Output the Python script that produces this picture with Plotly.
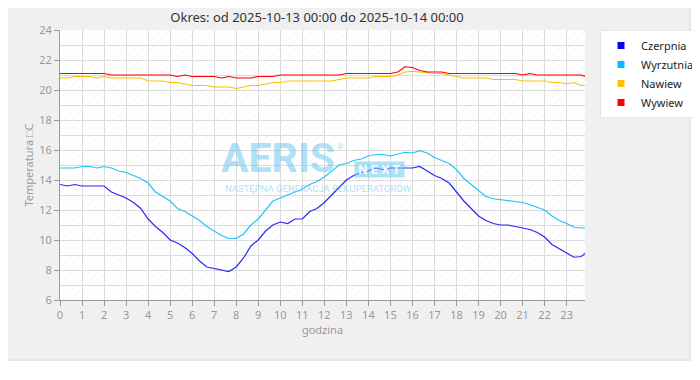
import plotly.graph_objects as go

# ---- data ----
times = [round(i / 3, 3) for i in range(72)] + [23.833]

czerpnia = [13.7, 13.6, 13.7, 13.6, 13.6, 13.6, 13.6, 13.2, 13.0, 12.8, 12.5, 12.1,
            11.4, 10.9, 10.5, 10.0, 9.8, 9.5, 9.1, 8.6, 8.2, 8.1, 8.0, 7.9,
            8.2, 8.8, 9.6, 10.0, 10.6, 11.0, 11.2, 11.1, 11.4, 11.4, 11.9, 12.1,
            12.5, 13.0, 13.5, 14.0, 14.3, 14.5, 14.6, 14.8, 14.7, 14.8, 14.8, 14.8,
            14.8, 14.9, 14.6, 14.3, 14.1, 13.8, 13.2, 12.6, 12.1, 11.6, 11.3, 11.1,
            11.0, 11.0, 10.9, 10.8, 10.7, 10.5, 10.2, 9.7, 9.4, 9.1, 8.85, 8.9, 9.1]

wyrzutnia = [14.8, 14.8, 14.8, 14.9, 14.9, 14.8, 14.9, 14.8, 14.6, 14.5, 14.3, 14.1,
             13.8, 13.2, 12.9, 12.6, 12.1, 11.9, 11.6, 11.3, 10.9, 10.6, 10.3, 10.1,
             10.1, 10.4, 11.0, 11.4, 12.0, 12.6, 12.8, 13.0, 13.2, 13.4, 13.7, 13.9,
             14.2, 14.6, 15.0, 15.1, 15.3, 15.4, 15.6, 15.7, 15.7, 15.6, 15.7, 15.85,
             15.8, 15.95, 15.8, 15.5, 15.3, 15.1, 14.7, 14.1, 13.7, 13.3, 12.9, 12.75,
             12.7, 12.6, 12.6, 12.5, 12.35, 12.2, 12.0, 11.6, 11.3, 11.1, 10.85, 10.8, 10.8]

nawiew = [20.8, 20.8, 20.9, 20.9, 20.9, 20.8, 20.9, 20.8, 20.8, 20.8, 20.8, 20.8,
          20.6, 20.6, 20.6, 20.5, 20.5, 20.4, 20.3, 20.3, 20.3, 20.2, 20.2, 20.2,
          20.1, 20.2, 20.3, 20.3, 20.4, 20.5, 20.5, 20.6, 20.6, 20.6, 20.6, 20.6,
          20.6, 20.6, 20.7, 20.8, 20.8, 20.8, 20.8, 20.9, 20.9, 20.9, 21.0, 21.2,
          21.25, 21.2, 21.1, 21.1, 21.1, 21.0, 20.9, 20.8, 20.8, 20.8, 20.8, 20.7,
          20.7, 20.7, 20.7, 20.6, 20.6, 20.6, 20.6, 20.5, 20.5, 20.4, 20.5, 20.3, 20.3]

wywiew = [21.1, 21.1, 21.1, 21.1, 21.1, 21.1, 21.1, 21.0, 21.0, 21.0, 21.0, 21.0,
          21.0, 21.0, 21.0, 21.0, 20.9, 21.0, 20.9, 20.9, 20.9, 20.9, 20.8, 20.9,
          20.8, 20.8, 20.8, 20.9, 20.9, 20.9, 21.0, 21.0, 21.0, 21.0, 21.0, 21.0,
          21.0, 21.0, 21.0, 21.1, 21.1, 21.1, 21.1, 21.1, 21.1, 21.1, 21.2, 21.55,
          21.5, 21.3, 21.2, 21.2, 21.2, 21.1, 21.1, 21.1, 21.1, 21.1, 21.1, 21.1,
          21.1, 21.1, 21.1, 21.0, 21.1, 21.0, 21.0, 21.0, 21.0, 21.0, 21.0, 21.0, 20.9]

series_names = ["Czerpnia", "Wyrzutnia", "Nawiew", "Wywiew"]
series_colors = ["#2a2af0", "#22c4f4", "#ffbf00", "#ff0000"]
legend_colors = ["#0000ff", "#00bfff", "#ffbf00", "#ff0000"]

x_ticks = list(range(0, 24))
y_ticks = list(range(6, 25, 2))
y_min, y_max = 6, 24
x_min, x_max = times[0], times[-1]

title_text = "Okres: od 2025-10-13 00:00 do 2025-10-14 00:00"

fig = go.Figure()

# hatched plot background
fig.add_trace(go.Bar(
    x=[(x_min + x_max) / 2], y=[y_max - y_min], base=[y_min], width=[x_max - x_min],
    marker=dict(color="rgba(0,0,0,0)", line=dict(width=0),
                pattern=dict(shape="/", fgcolor="#e9e9e9", bgcolor="rgba(0,0,0,0)",
                             size=6, solidity=0.15)),
    hoverinfo="skip", showlegend=False))

for name, vals, col in zip(series_names, [czerpnia, wyrzutnia, nawiew, wywiew], series_colors):
    fig.add_trace(go.Scatter(x=times, y=vals, mode="lines", name=name,
                             line=dict(color=col, width=1.2), showlegend=False))

for name, col in zip(series_names, legend_colors):
    fig.add_trace(go.Scatter(x=[None], y=[None], mode="markers", name=name,
                             marker=dict(symbol="square", size=7, color=col)))

tick_font = dict(family="Noto Sans", size=11, color="#999999")
wm = "rgba(110,200,240,0.55)"

# figure is placed at an 8px page offset, so it is 692x372
W, H = 692, 372
fig.update_layout(
    width=W, height=H,
    margin=dict(l=52, r=115, t=22, b=80, autoexpand=False),
    paper_bgcolor="white",
    plot_bgcolor="white",
    font=dict(family="Noto Sans", size=11, color="#999999"),
    title=dict(text=title_text, x=309 / W, xanchor="center", y=1 - 9.5 / H, yanchor="middle",
               font=dict(family="Noto Sans", size=13, color="#333333")),
    showlegend=True,
    legend=dict(x=1.0286, y=1.0, xanchor="left", yanchor="top", bgcolor="white",
                bordercolor="#e6e6e6", borderwidth=1,
                font=dict(family="Noto Sans", size=11, color="#222222"),
                tracegroupgap=0, itemwidth=30),
    bargap=0,
    xaxis=dict(range=[x_min, x_max], tickvals=x_ticks, ticks="outside", ticklen=5,
               tickcolor="#999999", showline=True, linecolor="#999999", linewidth=1,
               showgrid=True, gridcolor="#dadada", gridwidth=1, zeroline=False, automargin=False,
               tickfont=tick_font, title=dict(text="godzina", font=tick_font, standoff=1)),
    yaxis=dict(range=[y_min, y_max], tickvals=y_ticks, ticks="outside", ticklen=5,
               tickcolor="#999999", showline=True, linecolor="#999999", linewidth=1,
               showgrid=True, gridcolor="#dadada", gridwidth=1, zeroline=False, automargin=False,
               minor=dict(dtick=1, showgrid=True, gridcolor="#dadada", ticks=""),
               tickfont=tick_font,
               title=dict(text="Temperatura \u25a1C", font=tick_font, standoff=3)),
    shapes=[
        dict(type="rect", xref="paper", yref="paper",
             x0=(6 - 60) / 525, x1=(690 - 60) / 525, y0=(300 - 360) / 270, y1=(300 - 5) / 270,
             fillcolor="#f0f0f0", line=dict(color="#e2e2e2", width=1.5), layer="below"),
        dict(type="rect", xref="paper", yref="paper", x0=0, x1=1, y0=0, y1=1,
             fillcolor="white", line=dict(width=0), layer="below"),
    ],
    annotations=[
        dict(text="<b>AERIS</b>", xref="paper", yref="paper", x=(278 - 60) / 525, y=1 - (158 - 30) / 270,
             showarrow=False, font=dict(family="Roboto", size=41, color=wm)),
        dict(text="\u00ae", xref="paper", yref="paper", x=(340 - 60) / 525, y=1 - (146 - 30) / 270,
             showarrow=False, font=dict(family="Roboto", size=8, color=wm)),
        dict(text="<b>&nbsp;N E X T&nbsp;</b>", xref="paper", yref="paper", x=(379 - 60) / 525,
             y=1 - (169 - 30) / 270, showarrow=False, bgcolor=wm, borderpad=0,
             font=dict(family="Roboto", size=13, color="rgba(255,255,255,0.9)")),
        dict(text="NASTĘPNA GENERACJA REKUPERATORÓW", xref="paper", yref="paper",
             x=(318 - 60) / 525, y=1 - (188 - 30) / 270, showarrow=False,
             font=dict(family="Roboto", size=9.5, color=wm)),
    ],
)

fig.write_html("out.html")
